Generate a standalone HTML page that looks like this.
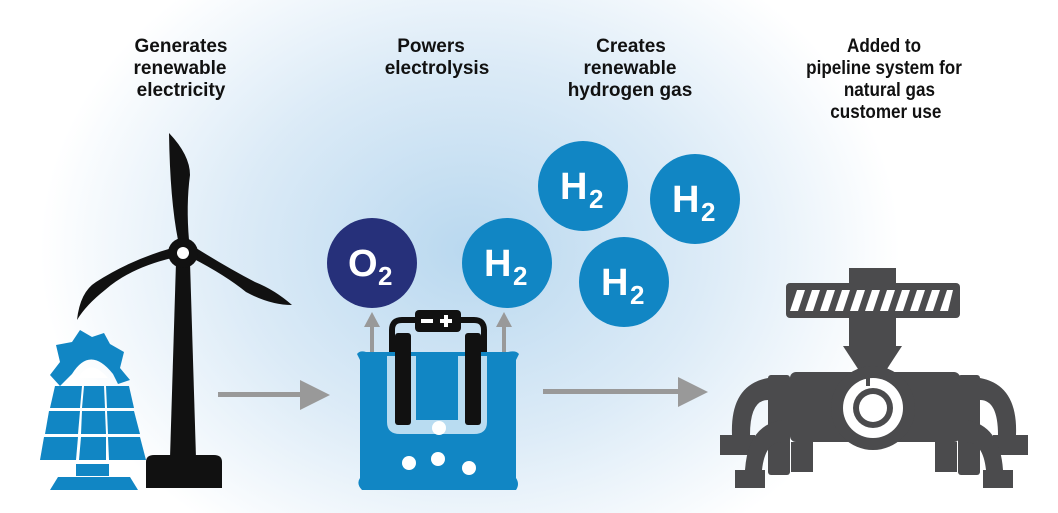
<!DOCTYPE html>
<html><head><meta charset="utf-8"><style>
html,body{margin:0;padding:0;width:1058px;height:513px;overflow:hidden;background:#fff}
svg{display:block}
.lbl{font-family:"Liberation Sans",sans-serif;font-weight:bold;fill:#111}
</style></head><body>
<svg width="1058" height="513" viewBox="0 0 1058 513" xmlns="http://www.w3.org/2000/svg">
<defs>
<radialGradient id="bg" cx="470" cy="250" r="430" gradientUnits="userSpaceOnUse" gradientTransform="translate(470 250) scale(1 0.8) translate(-470 -250)">
<stop offset="0" stop-color="#b9d8ef"/><stop offset="0.55" stop-color="#dcebf7"/><stop offset="1" stop-color="#ffffff"/>
</radialGradient>
</defs>
<rect width="1058" height="513" fill="url(#bg)"/>

<!-- labels -->
<g class="lbl" font-size="19" text-anchor="middle">
<text class="lbl" x="181" y="52">Generates</text>
<text class="lbl" x="180" y="74">renewable</text>
<text class="lbl" x="181" y="96">electricity</text>
<text class="lbl" x="431" y="52">Powers</text>
<text class="lbl" x="437" y="74">electrolysis</text>
<text class="lbl" x="631" y="52">Creates</text>
<text class="lbl" x="630" y="74">renewable</text>
<text class="lbl" x="630" y="96">hydrogen gas</text>
</g>
<g transform="translate(884 0) scale(0.9 1)">
<g class="lbl" font-size="19" text-anchor="middle">
<text class="lbl" x="0" y="52">Added to</text>
<text class="lbl" x="0" y="74">pipeline system for</text>
<text class="lbl" x="6" y="96">natural gas</text>
<text class="lbl" x="2" y="118">customer use</text>
</g></g>

<!-- arrows -->
<g fill="#999">
<rect x="218" y="392" width="86" height="5"/><polygon points="300,380 330,395 300,410"/>
<rect x="543" y="389" width="140" height="5"/><polygon points="678,377 708,392 678,407"/>
<rect x="370" y="325" width="4" height="28"/><polygon points="364,327 372,312 380,327"/>
<rect x="502" y="325" width="4" height="28"/><polygon points="496,327 504,312 512,327"/>
</g>

<!-- gas circles -->
<g font-family="Liberation Sans,sans-serif" font-weight="bold">
<circle cx="372" cy="263" r="45" fill="#26307a"/>
<circle cx="507" cy="263" r="45" fill="#1186c4"/>
<circle cx="583" cy="186" r="45" fill="#1186c4"/>
<circle cx="695" cy="199" r="45" fill="#1186c4"/>
<circle cx="624" cy="282" r="45" fill="#1186c4"/>
<g fill="#fff" style="fill:#fff">
<text x="348" y="276" font-size="38" style="fill:#fff">O</text><text x="378" y="285" font-size="26" style="fill:#fff">2</text>
<text x="484" y="276" font-size="38" style="fill:#fff">H</text><text x="513" y="285" font-size="26" style="fill:#fff">2</text>
<text x="560" y="199" font-size="38" style="fill:#fff">H</text><text x="589" y="208" font-size="26" style="fill:#fff">2</text>
<text x="672" y="212" font-size="38" style="fill:#fff">H</text><text x="701" y="221" font-size="26" style="fill:#fff">2</text>
<text x="601" y="295" font-size="38" style="fill:#fff">H</text><text x="630" y="304" font-size="26" style="fill:#fff">2</text>
</g></g>

<!-- beaker -->
<path d="M357,354 Q360,350 366,352 L508,352 Q516,350 519,354 L516,360 L516,478 Q520,484 516,490 L362,490 Q356,484 360,478 L360,360 Z" fill="#1186c4"/>
<path d="M387,356 L387,422 Q387,434 400,434 L474,434 Q487,434 487,422 L487,356 L458,356 L458,420 L416,420 L416,356 Z" fill="#b9dcf1"/>
<path d="M392,352 L392,330 Q392,320 402,320 L418,320 M458,320 L474,320 Q484,320 484,330 L484,352" stroke="#111" stroke-width="6" fill="none"/>
<rect x="415" y="310" width="46" height="22" rx="4" fill="#111"/>
<rect x="421" y="319" width="12" height="4" fill="#fff"/><rect x="440" y="319" width="12" height="4" fill="#fff"/><rect x="444" y="315" width="4" height="12" fill="#fff"/>
<rect x="395" y="333" width="16" height="92" rx="3" fill="#111"/>
<rect x="465" y="333" width="16" height="92" rx="3" fill="#111"/>
<g fill="#fff"><circle cx="439" cy="428" r="7"/><circle cx="409" cy="463" r="7"/><circle cx="438" cy="459" r="7"/><circle cx="469" cy="468" r="7"/></g>

<!-- solar panel -->
<g fill="#1186c4">
<path d="M50,375 L60,362 L56,345 L72,342 L80,330 L92,337 L104,333 L110,344 L124,352 L120,368 L130,380 L118,384 L113,374 Q90,345 72,374 L60,386 Z"/>
<path d="M78,378 Q90,357 108,378 Z" fill="#fff"/>
<polygon points="55,386 82,386 80,408 50,408"/><polygon points="84,386 104,386 105,408 82,408"/><polygon points="106,386 129,386 134,408 107,408"/>
<polygon points="49,411 80,411 78,434 45,434"/><polygon points="82,411 105,411 106,434 81,434"/><polygon points="107,411 134,411 140,434 108,434"/>
<polygon points="44,437 78,437 76,460 40,460"/><polygon points="81,437 106,437 106,460 79,460"/><polygon points="108,437 140,437 146,460 109,460"/>
<rect x="76" y="464" width="33" height="12"/><polygon points="58,477 130,477 138,490 50,490"/>
</g>

<!-- wind turbine -->
<g fill="#111">
<path d="M176,262 L190,262 L196,458 L170,458 Z"/>
<path d="M146,462 Q146,455 154,455 L214,455 Q222,455 222,462 L222,488 L146,488 Z"/>
<path d="M178,240 Q170,200 169,133 Q190,155 190,175 Q186,205 189,240 Z"/>
<path d="M172,258 Q130,268 105,290 Q86,305 77,320 Q80,292 96,282 Q130,260 172,248 Z"/>
<path d="M192,258 Q225,275 246,292 Q270,305 292,305 Q275,290 255,282 Q228,268 196,248 Z"/>
<circle cx="183" cy="253" r="15"/>
<circle cx="183" cy="253" r="6" fill="#fff"/>
</g>

<!-- valve -->
<g fill="#4b4b4d">
<rect x="849" y="268" width="47" height="80"/>
<rect x="786" y="283" width="174" height="35" rx="4"/>
<polygon points="843,346 902,346 885,372 860,372"/>
<rect x="790" y="372" width="170" height="70" rx="6"/>
<circle cx="873" cy="408" r="42"/>
<rect x="768" y="375" width="22" height="100" rx="3"/>
<rect x="958" y="375" width="22" height="100" rx="3"/>
<rect x="791" y="442" width="22" height="30"/><rect x="935" y="442" width="22" height="30"/>
<path d="M768,378 Q730,385 732,435 L720,435 L720,455 L755,455 L755,435 L750,435 Q750,400 768,400 Z"/>
<path d="M782,420 Q748,425 745,470 L735,470 L735,488 L765,488 L765,470 L762,470 Q765,442 782,442 Z"/>
<path d="M980,378 Q1018,385 1016,435 L1028,435 L1028,455 L993,455 L993,435 L998,435 Q998,400 980,400 Z"/>
<path d="M966,420 Q1000,425 1003,470 L1013,470 L1013,488 L983,488 L983,470 L986,470 Q983,442 966,442 Z"/>
</g>
<circle cx="873" cy="408" r="30" fill="#fff"/>
<circle cx="873" cy="408" r="20" fill="#4b4b4d"/>
<circle cx="873" cy="408" r="14" fill="#fff"/>
<rect x="866" y="376" width="4" height="10" fill="#4b4b4d"/>
<g fill="#fff">
<polygon points="797,290 805,290 798,311 790,311"/><polygon points="812,290 820,290 813,311 805,311"/><polygon points="827,290 835,290 828,311 820,311"/><polygon points="842,290 850,290 843,311 835,311"/><polygon points="857,290 865,290 858,311 850,311"/><polygon points="872,290 880,290 873,311 865,311"/><polygon points="887,290 895,290 888,311 880,311"/><polygon points="902,290 910,290 903,311 895,311"/><polygon points="917,290 925,290 918,311 910,311"/><polygon points="932,290 940,290 933,311 925,311"/><polygon points="947,290 953,290 948,311 940,311"/>
</g>
</svg>
</body></html>
